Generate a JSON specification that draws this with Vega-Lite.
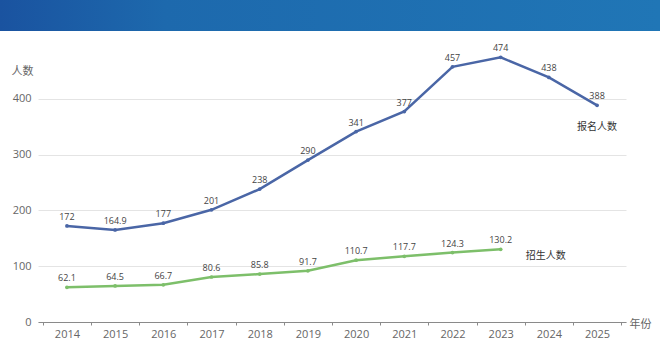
{
  "$schema": "https://vega.github.io/schema/vega-lite/v6.json",
  "padding": 0,
  "spacing": 13,
  "background": "white",
  "config": {"font": "Noto Sans CJK SC", "view": {"stroke": null}},
  "datasets": {
    "d": [
      {"year": "2014", "series": "报名人数", "value": 172},
      {"year": "2015", "series": "报名人数", "value": 164.9},
      {"year": "2016", "series": "报名人数", "value": 177},
      {"year": "2017", "series": "报名人数", "value": 201},
      {"year": "2018", "series": "报名人数", "value": 238},
      {"year": "2019", "series": "报名人数", "value": 290},
      {"year": "2020", "series": "报名人数", "value": 341},
      {"year": "2021", "series": "报名人数", "value": 377},
      {"year": "2022", "series": "报名人数", "value": 457},
      {"year": "2023", "series": "报名人数", "value": 474},
      {"year": "2024", "series": "报名人数", "value": 438},
      {"year": "2025", "series": "报名人数", "value": 388},
      {"year": "2014", "series": "招生人数", "value": 62.1},
      {"year": "2015", "series": "招生人数", "value": 64.5},
      {"year": "2016", "series": "招生人数", "value": 66.7},
      {"year": "2017", "series": "招生人数", "value": 80.6},
      {"year": "2018", "series": "招生人数", "value": 85.8},
      {"year": "2019", "series": "招生人数", "value": 91.7},
      {"year": "2020", "series": "招生人数", "value": 110.7},
      {"year": "2021", "series": "招生人数", "value": 117.7},
      {"year": "2022", "series": "招生人数", "value": 124.3},
      {"year": "2023", "series": "招生人数", "value": 130.2}
    ]
  },
  "vconcat": [
    {
      "width": 660,
      "height": 31,
      "view": {
        "fill": {
          "gradient": "linear",
          "x1": 0, "y1": 0, "x2": 1, "y2": 0,
          "stops": [
            {"offset": 0, "color": "#1a53a0"},
            {"offset": 0.25, "color": "#1d69ad"},
            {"offset": 1, "color": "#2076b6"}
          ]
        },
        "stroke": null
      },
      "data": {"values": [{"t": ""}]},
      "mark": {"type": "text"},
      "encoding": {"text": {"field": "t"}}
    },
    {
      "width": 626,
      "height": 268,
      "data": {"name": "d"},
      "encoding": {
        "x": {
          "field": "year",
          "type": "ordinal",
          "bandPosition": 0.5,
          "scale": {"type": "band", "paddingInner": 0, "paddingOuter": 0.1, "range": [38, 626]},
          "axis": {
            "title": "年份",
            "labelAngle": 0,
            "tickBand": "extent",
            "domainColor": "#8a8a8a",
            "tickColor": "#8a8a8a",
            "tickSize": 3,
            "labelColor": "#666666",
            "labelFont": "Open Sans",
            "labelFontSize": 11,
            "labelPadding": 3,
            "titleAngle": 0,
            "titleX": 640,
            "titleY": 2,
            "titleAlign": "center",
            "titleBaseline": "middle",
            "titleFontWeight": "normal",
            "titleColor": "#666666",
            "titleFontSize": 11,
            "grid": false
          }
        },
        "y": {
          "field": "value",
          "type": "quantitative",
          "scale": {"domain": [0, 480], "nice": false},
          "axis": {
            "values": [0, 100, 200, 300, 400],
            "offset": -38,
            "title": "人数",
            "titleAngle": 0,
            "titleX": -16,
            "titleY": 17,
            "titleAlign": "center",
            "titleBaseline": "middle",
            "titleFontWeight": "normal",
            "titleColor": "#666666",
            "titleFontSize": 11,
            "domain": false,
            "ticks": false,
            "labelPadding": 7,
            "labelColor": "#666666",
            "labelFont": "Open Sans",
            "labelFontSize": 11,
            "gridColor": "#e4e4e4"
          }
        },
        "color": {
          "field": "series",
          "type": "nominal",
          "scale": {"domain": ["报名人数", "招生人数"], "range": ["#4a66a6", "#7dbf6a"]},
          "legend": null
        }
      },
      "layer": [
        {
          "mark": {"type": "line", "strokeWidth": 2.5, "point": {"filled": true, "size": 14}}
        },
        {
          "mark": {"type": "text", "baseline": "bottom", "dy": -4, "fontSize": 9, "font": "Open Sans", "color": "#444444"},
          "encoding": {"text": {"field": "value", "type": "nominal"}, "color": {"value": "#444444"}}
        },
        {
          "transform": [{"filter": "datum.series == '报名人数' && datum.year == '2025'"}],
          "mark": {"type": "text", "baseline": "middle", "align": "center", "dy": 22, "fontSize": 10, "color": "#333333"},
          "encoding": {"text": {"field": "series", "type": "nominal"}, "color": {"value": "#333333"}}
        },
        {
          "transform": [{"filter": "datum.series == '招生人数' && datum.year == '2023'"}],
          "mark": {"type": "text", "baseline": "middle", "align": "left", "dx": 25, "dy": 7, "fontSize": 10, "color": "#333333"},
          "encoding": {"text": {"field": "series", "type": "nominal"}, "color": {"value": "#333333"}}
        }
      ]
    }
  ]
}
